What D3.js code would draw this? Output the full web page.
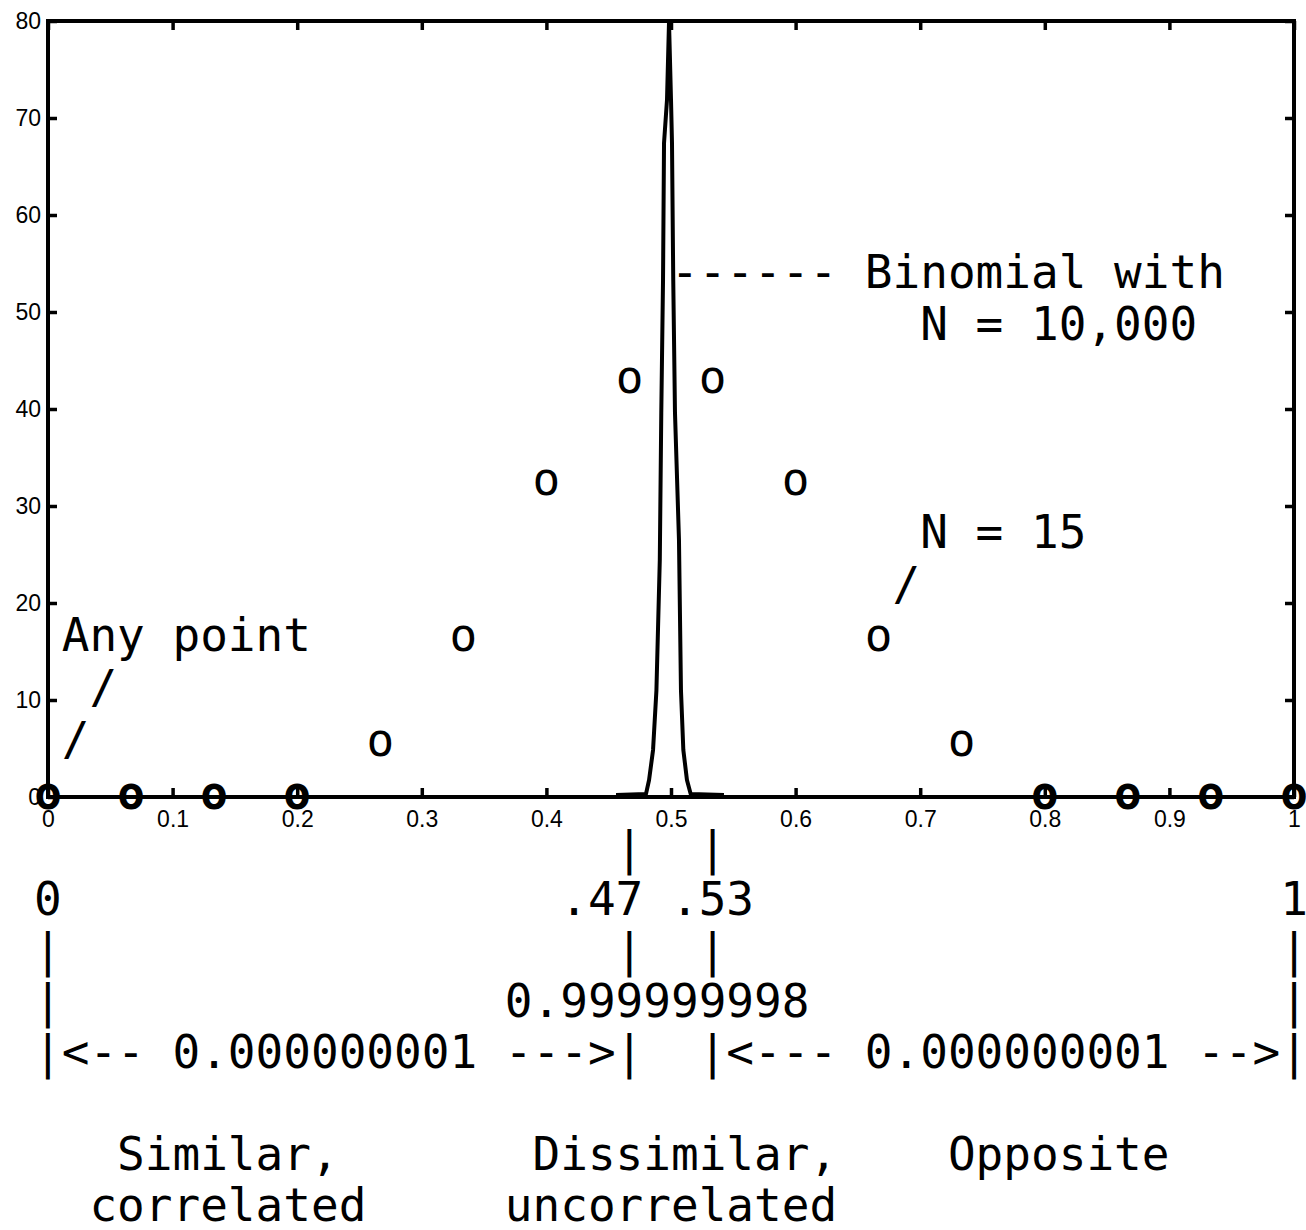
<!DOCTYPE html>
<html>
<head>
<meta charset="utf-8">
<script src="https://cdn.jsdelivr.net/npm/d3@7"></script>
<style>
  body { margin: 0; background: #fff; }
  svg text.mono { white-space: pre; }
</style>
</head>
<body>
<svg id="chart" width="1306" height="1230"></svg>
<script>
// points of the N = 15 series (x = k/15), plotted as "o"
const pointX = [0, 0.0667, 0.1333, 0.2, 0.2667, 0.3333, 0.4, 0.4667, 0.5333, 0.6, 0.6667, 0.7333, 0.8, 0.8667, 0.9333, 1];
const pointY = [0, 0, 0, 0, 5.5, 16.3, 32.4, 42.9, 42.9, 32.4, 16.3, 5.5, 0, 0, 0, 0];

// binomial N = 10,000 curve, vertices
const curveX = [0.4559, 0.4799, 0.4824, 0.4856, 0.4883, 0.4910, 0.4922, 0.4936, 0.4944, 0.4968, 0.4984,
                0.5000, 0.5008, 0.5018, 0.5032, 0.5064, 0.5080, 0.5099, 0.5128, 0.5158, 0.5425];
const curveY = [0.2, 0.3, 1.75, 4.85, 11.0, 24.4, 39.6, 53.3, 67.4, 71.9, 79.9,
                71.9, 67.4, 53.3, 39.6, 26.5, 11.0, 4.85, 1.75, 0.3, 0.2];

// tick labels
const xTicks = [0, 0.1, 0.2, 0.3, 0.4, 0.5, 0.6, 0.7, 0.8, 0.9, 1];
const xTickLabels = ['0', '0.1', '0.2', '0.3', '0.4', '0.5', '0.6', '0.7', '0.8', '0.9', '1'];
const yTicks = [0, 10, 20, 30, 40, 50, 60, 70, 80];

// text annotations inside the plot
const noteTexts = ['------ Binomial with', 'N = 10,000', 'N = 15', '/', 'Any point', '/', '/'];
const noteCols  = [23, 32, 32, 31, 1, 2, 1];
const noteLines = [288, 340, 548, 600, 651, 703, 755];

// the ascii scale below the axis
const scaleLines = [
    ' '.repeat(21) + '|  |',
    '0' + ' '.repeat(18) + '.47 .53' + ' '.repeat(19) + '1',
    '|' + ' '.repeat(20) + '|  |' + ' '.repeat(20) + '|',
    '|' + ' '.repeat(16) + '0.999999998' + ' '.repeat(17) + '|',
    '|<-- 0.000000001 --->|  |<--- 0.000000001 -->|',
    '',
    '   Similar,' + ' '.repeat(7) + 'Dissimilar,' + ' '.repeat(4) + 'Opposite',
    '  correlated' + ' '.repeat(5) + 'uncorrelated'
];

const MONO = "'DejaVu Sans Mono', monospace";
const SANS = "'Liberation Sans', Arial, sans-serif";
const monoSize = 46;
const charW = monoSize * 0.60205;
const col0 = 34;
const colX = c => col0 + c * charW;

const svg = d3.select('#chart');
const plotLeft = 48, plotRight = 1294, plotTop = 21, plotBottom = 797;

const x = d3.scaleLinear().domain([0, 1]).range([plotLeft, plotRight]);
const y = d3.scaleLinear().domain([0, 80]).range([plotBottom, plotTop]);

// axes with inward ticks
const styleAxis = g => {
    g.select('.domain').remove();
    g.selectAll('.tick line').attr('stroke', '#000').attr('stroke-width', 3.5);
    g.selectAll('.tick text').attr('fill', '#000').style('font-family', SANS).style('font-size', '23px');
};

svg.append('g')
    .attr('transform', `translate(0,${plotBottom})`)
    .call(d3.axisBottom(x).tickValues(xTicks).tickFormat((d, i) => xTickLabels[i])
        .tickSizeInner(-9).tickSizeOuter(0).tickPadding(14))
    .call(styleAxis);

svg.append('g')
    .attr('transform', `translate(0,${plotTop})`)
    .call(d3.axisTop(x).tickValues(xTicks).tickFormat('').tickSizeInner(-9).tickSizeOuter(0))
    .call(styleAxis);

svg.append('g')
    .attr('transform', `translate(${plotLeft},0)`)
    .call(d3.axisLeft(y).tickValues(yTicks).tickFormat(d3.format('d'))
        .tickSizeInner(-9).tickSizeOuter(0).tickPadding(7))
    .call(styleAxis);

svg.append('g')
    .attr('transform', `translate(${plotRight},0)`)
    .call(d3.axisRight(y).tickValues(yTicks).tickFormat('').tickSizeInner(-9).tickSizeOuter(0))
    .call(styleAxis);

// frame
svg.append('rect')
    .attr('x', plotLeft).attr('y', plotTop)
    .attr('width', plotRight - plotLeft).attr('height', plotBottom - plotTop)
    .attr('fill', 'none').attr('stroke', '#000').attr('stroke-width', 4);

// curve
const line = d3.line().x((d, i) => x(curveX[i])).y(d => y(d));
svg.append('path')
    .datum(curveY)
    .attr('d', line)
    .attr('fill', 'none')
    .attr('stroke', '#000')
    .attr('stroke-width', 4)
    .attr('stroke-linejoin', 'round');

// points drawn as the letter o, centred on the value
svg.append('g').selectAll('text')
    .data(pointY)
    .join('text')
    .attr('x', (d, i) => x(pointX[i]))
    .attr('y', d => y(d) + monoSize * 0.27)
    .attr('text-anchor', 'middle')
    .style('font-family', MONO)
    .style('font-size', monoSize + 'px')
    .style('font-weight', d => d === 0 ? 'bold' : 'normal')
    .text('o');

// annotations
svg.append('g').selectAll('text')
    .data(noteTexts)
    .join('text')
    .attr('class', 'mono')
    .attr('x', (d, i) => colX(noteCols[i]))
    .attr('y', (d, i) => noteLines[i])
    .style('font-family', MONO)
    .style('font-size', monoSize + 'px')
    .text(d => d);

// ascii scale under the axis
svg.append('g').selectAll('text')
    .data(scaleLines)
    .join('text')
    .attr('class', 'mono')
    .attr('x', col0)
    .attr('y', (d, i) => 864 + i * 51)
    .style('font-family', MONO)
    .style('font-size', monoSize + 'px')
    .text(d => d);
</script>
</body>
</html>
